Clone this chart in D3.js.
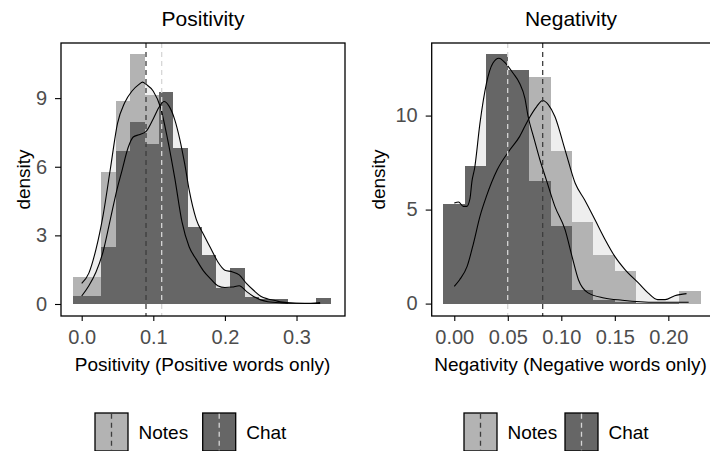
<!DOCTYPE html>
<html>
<head>
<meta charset="utf-8">
<script src="https://cdn.jsdelivr.net/npm/d3@7"></script>
<style>
  body { margin: 0; background: #fff; }
  svg { display: block; }
</style>
</head>
<body>
<div id="chart"></div>
<script>
// ---- data: Positivity ----
const posBinEdges = [-0.0127, 0.0073, 0.0273, 0.0473, 0.0673, 0.0873, 0.1073, 0.1273, 0.1473, 0.1673,
  0.1873, 0.2073, 0.2273, 0.2473, 0.2673, 0.2873, 0.3073, 0.3273, 0.3473];
const posNotesHist = [1.19, 1.19, 5.78, 8.88, 10.92, 9.15, 6.5, 5.0, 3.0, 2.0, 0.6, 0.9, 0.3, 0.1, 0.05, 0, 0, 0];
const posChatHist = [0.36, 0.36, 2.48, 6.7, 7.95, 7.0, 9.25, 6.84, 3.38, 2.14, 0.69, 1.59, 0.3, 0.2, 0.2, 0, 0, 0.25];
const posNotesDensX = [0, 0.01, 0.02, 0.03, 0.04, 0.05, 0.06, 0.07, 0.08, 0.085, 0.09, 0.10, 0.11, 0.12, 0.13,
  0.14, 0.15, 0.16, 0.17, 0.18, 0.19, 0.20, 0.21, 0.22, 0.23, 0.24, 0.25, 0.26, 0.28, 0.30, 0.32, 0.333];
const posNotesDensY = [0.9, 1.35, 2.4, 3.9, 5.9, 7.9, 8.8, 9.3, 9.6, 9.7, 9.6, 9.3, 8.6, 7.2, 5.5,
  3.6, 2.5, 1.95, 1.45, 1.1, 0.8, 0.72, 0.74, 0.8, 0.55, 0.33, 0.18, 0.1, 0.05, 0.03, 0.02, 0.02];
const posChatDensX = [0, 0.01, 0.02, 0.03, 0.04, 0.05, 0.056, 0.065, 0.072, 0.08, 0.09, 0.10, 0.108, 0.115,
  0.122, 0.13, 0.137, 0.144, 0.15, 0.16, 0.17, 0.18, 0.19, 0.20, 0.21, 0.22, 0.23, 0.24, 0.25, 0.26, 0.27,
  0.28, 0.30, 0.32, 0.333];
const posChatDensY = [0.35, 0.8, 1.4, 2.3, 3.7, 5.1, 5.8, 6.85, 7.3, 7.4, 7.55, 8.1, 8.6, 8.85,
  8.65, 8.05, 7.2, 6.1, 5.0, 3.7, 3.05, 2.45, 1.85, 1.48, 1.41, 1.27, 0.9, 0.6, 0.34, 0.22, 0.15,
  0.08, 0.03, 0.03, 0.06];
const posMeans = [0.0898, 0.1117]; // Notes, Chat
const posXTicks = [0, 0.1, 0.2, 0.3];
const posYTicks = [0, 3, 6, 9];

// ---- data: Negativity ----
const negBinEdges = [-0.0103, 0.0097, 0.0297, 0.0497, 0.0697, 0.0897, 0.1097, 0.1297, 0.1497, 0.1697,
  0.1897, 0.2097, 0.2297];
const negNotesHist = [0.9, 3.5, 6.0, 9.0, 12.04, 8.12, 4.34, 2.6, 1.75, 0, 0, 0.65];
const negChatHist = [5.29, 7.34, 13.26, 12.43, 6.5, 4.14, 0.7, 0.2, 0.1, 0.05, 0.05, 0];
const negNotesDensX = [0, 0.005, 0.012, 0.018, 0.024, 0.030, 0.040, 0.052, 0.061, 0.069, 0.077, 0.0826,
  0.088, 0.094, 0.1035, 0.113, 0.122, 0.1315, 0.141, 0.150, 0.1595, 0.172, 0.181, 0.19, 0.197, 0.206, 0.217];
const negNotesDensY = [0.92, 1.27, 1.98, 3.22, 4.64, 5.7, 7.1, 8.18, 8.88, 9.77, 10.48, 10.8,
  10.57, 9.95, 8.18, 6.4, 5.5, 4.46, 3.4, 2.51, 1.81, 1.1, 0.57, 0.21, 0.21, 0.42, 0.53];
const negChatDensX = [0, 0.004, 0.0085, 0.0116, 0.0147, 0.0165, 0.019, 0.024, 0.030, 0.036, 0.0417, 0.048,
  0.055, 0.061, 0.066, 0.069, 0.074, 0.080, 0.086, 0.094, 0.1035, 0.11, 0.116, 0.125, 0.14, 0.157, 0.188, 0.219];
const negChatDensY = [5.35, 5.4, 5.17, 5.17, 5.6, 6.5, 7.2, 9.6, 11.7, 12.78, 13.05, 12.78,
  12.25, 11.72, 10.92, 9.95, 8.88, 7.65, 6.58, 5.17, 3.93, 2.51, 1.27, 0.57, 0.3, 0.18, 0.07, 0.07];
const negMeans = [0.0826, 0.0499];
const negXTicks = [0, 0.05, 0.10, 0.15, 0.20];
const negYTicks = [0, 5, 10];

const groups = ['Notes', 'Chat'];

// ---- styles ----
const FONT = "'Liberation Sans', Arial, sans-serif";
const barFill = {Notes: '#b3b3b3', Chat: '#666666'};
const meanColor = {Notes: '#3d3d3d', Chat: '#d6d6d6'};

const W = 710, H = 451;
const svg = d3.select('#chart').append('svg')
  .attr('width', W).attr('height', H)
  .attr('font-family', FONT);
svg.append('rect').attr('width', W).attr('height', H).attr('fill', '#fff');

const toBins = (edges, heights) => heights.map((h, i) => ({x0: edges[i], x1: edges[i + 1], h: h}));
const toPts = (xs, ys) => xs.map((x, i) => ({x: x, y: ys[i]}));

const drawPanel = (p) => {
  const x = d3.scaleLinear().domain(p.xDomain).range([p.left, p.right]);
  const y = d3.scaleLinear().domain(p.yDomain).range([p.bottom, p.top]);
  const g = svg.append('g');

  const clipId = 'clip-' + p.id;
  g.append('clipPath').attr('id', clipId)
    .append('rect')
    .attr('x', p.left).attr('y', p.top)
    .attr('width', p.right - p.left).attr('height', p.bottom - p.top);
  const plot = g.append('g').attr('clip-path', 'url(#' + clipId + ')');

  const area = d3.area().x(d => x(d.x)).y0(y(0)).y1(d => y(d.y)).curve(d3.curveMonotoneX);
  const line = d3.line().x(d => x(d.x)).y(d => y(d.y)).curve(d3.curveMonotoneX);

  // density fills (behind bars)
  p.dens.forEach(d => {
    plot.append('path').datum(d.pts)
      .attr('d', area)
      .attr('fill', '#000').attr('fill-opacity', 0.065);
  });

  // histograms
  p.hists.forEach(hs => {
    plot.append('g').selectAll('rect')
      .data(hs.bins.filter(b => b.h > 0))
      .join('rect')
      .attr('x', b => x(b.x0))
      .attr('width', b => x(b.x1) - x(b.x0) + 0.4)
      .attr('y', b => y(b.h))
      .attr('height', b => y(0) - y(b.h))
      .attr('fill', barFill[hs.group])
      .attr('shape-rendering', 'crispEdges');
  });

  // density lines
  p.dens.forEach(d => {
    plot.append('path').datum(d.pts)
      .attr('d', line)
      .attr('fill', 'none').attr('stroke', '#000').attr('stroke-width', 1.1);
  });

  // mean lines
  plot.selectAll('.mean')
    .data(p.means)
    .join('line')
    .attr('class', 'mean')
    .attr('x1', d => x(d.v)).attr('x2', d => x(d.v))
    .attr('y1', p.top).attr('y2', p.bottom)
    .attr('stroke', d => meanColor[d.group])
    .attr('stroke-width', 1.3)
    .attr('stroke-dasharray', '5,4');

  // panel border
  g.append('rect')
    .attr('x', p.left).attr('y', p.top)
    .attr('width', p.right - p.left).attr('height', p.bottom - p.top)
    .attr('fill', 'none').attr('stroke', '#000').attr('stroke-width', 1.3);

  // axes
  const styleAxis = (a) => {
    a.select('.domain').remove();
    a.selectAll('line').attr('stroke', '#000').attr('stroke-width', 1.1);
    a.selectAll('text').attr('font-family', FONT).attr('font-size', 20).attr('fill', '#4d4d4d');
  };
  g.append('g')
    .attr('transform', 'translate(' + p.left + ',0)')
    .call(d3.axisLeft(y).tickValues(p.yTicks).tickSize(6).tickPadding(8).tickFormat(d3.format('d')))
    .call(styleAxis);
  g.append('g')
    .attr('transform', 'translate(0,' + p.bottom + ')')
    .call(d3.axisBottom(x).tickValues(p.xTicks).tickSize(5).tickPadding(9).tickFormat(d3.format(p.xFormat)))
    .call(styleAxis);

  // titles
  g.append('text')
    .attr('x', p.titleX).attr('y', 25.5)
    .attr('text-anchor', 'middle')
    .attr('font-size', 21).attr('fill', '#000')
    .text(p.title);
  g.append('text')
    .attr('x', p.xLabelX).attr('y', 371)
    .attr('text-anchor', 'middle')
    .attr('font-size', 19).attr('fill', '#000')
    .text(p.xLabel);
  g.append('text')
    .attr('transform', 'translate(' + p.yLabelX + ',' + ((p.top + p.bottom) / 2) + ') rotate(-90)')
    .attr('text-anchor', 'middle')
    .attr('font-size', 19).attr('fill', '#000')
    .text('density');

  // legend
  const lg = g.append('g').attr('transform', 'translate(0,413)');
  groups.forEach((grp, i) => {
    const kx = p.legendX[i];
    lg.append('rect')
      .attr('x', kx).attr('y', 0).attr('width', 33).attr('height', 38)
      .attr('fill', barFill[grp]).attr('stroke', '#000').attr('stroke-width', 1.3);
    lg.append('line')
      .attr('x1', kx + 16.5).attr('x2', kx + 16.5).attr('y1', 0.7).attr('y2', 37.3)
      .attr('stroke', meanColor[grp]).attr('stroke-width', 1.3).attr('stroke-dasharray', '5,4');
    lg.append('text')
      .attr('x', kx + 43.5).attr('y', 19).attr('dy', '0.35em')
      .attr('font-size', 19).attr('fill', '#000')
      .text(grp);
  });
};

drawPanel({
  id: 'pos', title: 'Positivity', xLabel: 'Positivity (Positive words only)',
  left: 61, right: 345, top: 43, bottom: 316,
  xDomain: [-0.0289, 0.3677], yDomain: [-0.525, 11.41],
  xTicks: posXTicks, yTicks: posYTicks, xFormat: '.1f',
  titleX: 203, xLabelX: 202.5, yLabelX: 29.5,
  legendX: [95, 202.7],
  hists: [
    {group: 'Notes', bins: toBins(posBinEdges, posNotesHist)},
    {group: 'Chat', bins: toBins(posBinEdges, posChatHist)}
  ],
  dens: [
    {group: 'Notes', pts: toPts(posNotesDensX, posNotesDensY)},
    {group: 'Chat', pts: toPts(posChatDensX, posChatDensY)}
  ],
  means: [{group: 'Notes', v: posMeans[0]}, {group: 'Chat', v: posMeans[1]}]
});

drawPanel({
  id: 'neg', title: 'Negativity', xLabel: 'Negativity (Negative words only)',
  left: 431.7, right: 713.6, top: 43, bottom: 316,
  xDomain: [-0.0211, 0.2423], yDomain: [-0.66, 13.86],
  xTicks: negXTicks, yTicks: negYTicks, xFormat: '.2f',
  titleX: 571, xLabelX: 570.5, yLabelX: 384.5,
  legendX: [464, 565],
  hists: [
    {group: 'Notes', bins: toBins(negBinEdges, negNotesHist)},
    {group: 'Chat', bins: toBins(negBinEdges, negChatHist)}
  ],
  dens: [
    {group: 'Notes', pts: toPts(negNotesDensX, negNotesDensY)},
    {group: 'Chat', pts: toPts(negChatDensX, negChatDensY)}
  ],
  means: [{group: 'Notes', v: negMeans[0]}, {group: 'Chat', v: negMeans[1]}]
});
</script>
</body>
</html>
